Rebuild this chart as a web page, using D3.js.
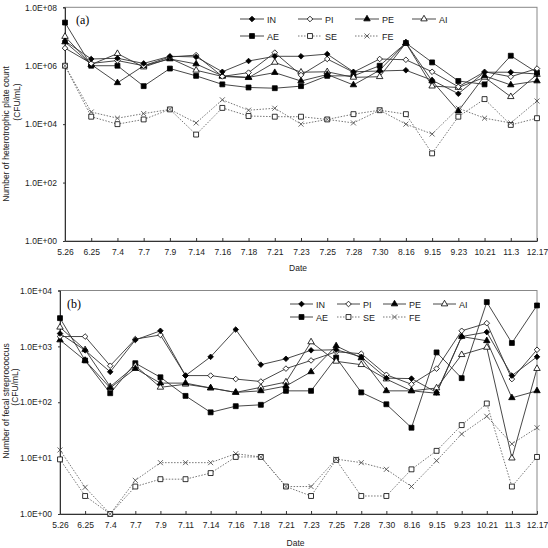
<!DOCTYPE html>
<html>
<head>
<meta charset="utf-8">
<script src="https://cdn.jsdelivr.net/npm/d3@7"></script>
<style>
  body { margin: 0; background: #fff; }
  svg { display: block; font-family: "Liberation Sans", Arial, sans-serif; }
</style>
</head>
<body>
<svg id="chart" width="548" height="548"></svg>
<script>
const datesA = ["5.26","6.25","7.4","7.7","7.9","7.14","7.16","7.18","7.21","7.23","7.25","7.28","7.30","8.16","9.15","9.23","10.21","11.3","12.17"];
const datesB = ["5.26","6.25","7.4","7.7","7.9","7.11","7.14","7.16","7.18","7.21","7.23","7.25","7.28","7.30","8.16","9.15","9.23","10.21","11.3","12.17"];
const names = ["IN","PI","PE","AI","AE","SE","FE"];

// (a) heterotrophic plate count
const hpcIN = [7e6,1.7e6,1.8e6,1.2e6,2.1e6,2e6,6.2e5,1.45e6,2.1e6,2.1e6,2.5e6,6.2e5,6.6e5,7e5,3.2e5,1.1e5,6e5,6e5,5.2e5];
const hpcPI = [4e6,1.2e6,1.5e6,1e6,2e6,2.3e6,4.3e5,5.8e5,2.8e6,4.8e5,1.7e6,6e5,1.7e6,1.6e6,6.2e5,1.9e5,6.2e5,4.2e5,8e5];
const hpcPE = [6.5e6,1.1e6,2.6e5,1e6,1.7e6,1.15e6,4.5e5,4e5,5.8e5,3e5,5e5,2.2e5,7e5,6e6,3e5,2.8e4,4.5e5,2.2e5,3e5];
const hpcAI = [1e7,1.1e6,2.6e6,9e5,1.8e6,7e5,4.3e5,3.9e5,1.3e6,6e5,6.2e5,4e5,4.2e5,6e6,2e5,1.8e5,4e5,8.7e4,5e5];
const hpcAE = [3e7,1e6,1e6,2e5,8e5,4.5e5,2.3e5,1.8e5,1.7e5,2e5,4.5e5,4.5e5,1e6,6e6,1.3e6,3e5,2.3e5,2.2e6,5.8e5];
const hpcSE = [1e6,1.8e4,1e4,1.45e4,3.2e4,4.4e3,3.6e4,1.9e4,1.8e4,1.8e4,1.45e4,2.2e4,3e4,2.2e4,1e3,1.8e4,7.2e4,9.4e3,1.6e4];
const hpcFE = [1e6,2.6e4,1.6e4,2.3e4,3.2e4,1.1e4,6.8e4,3e4,3.5e4,1e4,1.45e4,1.1e4,3e4,1e4,4.6e3,3.5e4,1.6e4,1.1e4,6.2e4];

// (b) fecal streptococcus
const fsIN = [1.7e3,850,350,1.3e3,1.9e3,300,650,2e3,470,600,850,870,650,270,265,150,1.5e3,1.8e3,300,650];
const fsPI = [1.5e3,1.5e3,450,1.35e3,1.6e3,300,300,260,235,400,560,800,740,310,210,400,1.9e3,2.6e3,260,870];
const fsPE = [1.3e3,560,180,400,220,220,180,150,160,195,350,1.02e3,620,160,160,145,1.5e3,1.26e3,120,160];
const fsAI = [2.2e3,870,190,450,185,210,180,150,185,230,1.2e3,540,470,260,160,180,710,960,10,400];
const fsAE = [3.2e3,560,145,500,280,130,66,85,90,160,160,630,150,92,35,780,270,6.2e3,1.15e3,5.4e3];
const fsSE = [9.5,2.1,1,3.1,4.2,4.2,5.4,10.5,10.5,3.1,2.1,9.3,2.1,2.1,6.3,13.5,39,95,3.1,10.5];
const fsFE = [14,3,1,4,8.3,8.3,8.3,12,10.5,3.1,3.1,9.6,8.3,6.3,3.1,9,27,56,18,35];

const ticksA = [1,1e2,1e4,1e6,1e8];
const ticksB = [1,1e1,1e2,1e3,1e4];

const style = {
  IN: {sym: d3.symbolDiamond2, fill: "#000", dash: null},
  PI: {sym: d3.symbolDiamond2, fill: "#fff", dash: null},
  PE: {sym: d3.symbolTriangle, fill: "#000", dash: null},
  AI: {sym: d3.symbolTriangle, fill: "#fff", dash: null},
  AE: {sym: d3.symbolSquare, fill: "#000", dash: null},
  SE: {sym: d3.symbolSquare, fill: "#fff", dash: "1.5,1.5"},
  FE: {sym: d3.symbolTimes, fill: "none", dash: "1.5,1.5"}
};
const symSize = {IN: 20, PI: 20, PE: 18, AI: 18, AE: 24, SE: 24, FE: 18};

const svg = d3.select("#chart");
const fmt = v => "1.0E+" + String(Math.round(Math.log10(v))).padStart(2, "0");

function marker(g, name, x, y) {
  const s = style[name];
  g.append("path")
    .attr("transform", `translate(${x},${y})`)
    .attr("d", d3.symbol().type(s.sym).size(symSize[name])())
    .attr("fill", s.fill)
    .attr("stroke", name === "FE" ? "#444" : "#000")
    .attr("stroke-width", 0.8);
}

function drawPanel(p) {
  const g = svg.append("g");
  const x = d3.scalePoint().domain(p.dates).range([p.left, p.right]);
  const y = d3.scaleLog().domain(p.domain).range([p.bottom, p.top]);

  // frame
  g.append("rect")
    .attr("x", p.left).attr("y", p.top)
    .attr("width", p.right - p.left).attr("height", p.bottom - p.top)
    .attr("fill", "none").attr("stroke", "#888").attr("stroke-width", 1);

  const xa = g.append("g")
    .attr("transform", `translate(0,${p.bottom})`)
    .call(d3.axisBottom(x).tickSizeInner(-3).tickSizeOuter(0).tickPadding(8));
  xa.select(".domain").attr("stroke", "#333");
  xa.selectAll("line").attr("stroke", "#333");
  xa.selectAll("text").attr("font-size", "8.5px").attr("fill", "#222");

  const ya = g.append("g")
    .attr("transform", `translate(${p.left},0)`)
    .call(d3.axisLeft(y).tickValues(p.ticks).tickFormat(fmt).tickSize(2).tickPadding(6));
  ya.select(".domain").attr("stroke", "#333");
  ya.selectAll("line").attr("stroke", "#333");
  ya.selectAll("text").attr("font-size", "8.5px").attr("fill", "#222");

  const line = d3.line().x((d, i) => x(p.dates[i])).y(d => y(d));
  const order = ["SE","FE","AE","AI","PE","PI","IN"];
  order.forEach(n => {
    const dotted = style[n].dash;
    g.append("path")
      .attr("d", line(p.series[n]))
      .attr("fill", "none")
      .attr("stroke", dotted ? "#666" : "#333")
      .attr("stroke-width", 0.9)
      .attr("stroke-dasharray", dotted);
  });
  order.forEach(n => {
    p.series[n].forEach((v, i) => marker(g, n, x(p.dates[i]), y(v)));
  });

  // legend
  names.forEach((n, i) => {
    const col = i % 4, row = Math.floor(i / 4);
    const lx = p.legX[col], ly = p.legY[row];
    g.append("line")
      .attr("x1", lx).attr("x2", lx + p.legLen)
      .attr("y1", ly).attr("y2", ly)
      .attr("stroke", style[n].dash ? "#666" : "#333")
      .attr("stroke-width", 0.9)
      .attr("stroke-dasharray", style[n].dash);
    marker(g, n, lx + p.legLen / 2, ly);
    g.append("text")
      .attr("x", lx + p.legLen + 3).attr("y", ly + 3.5)
      .attr("font-size", "9px").attr("fill", "#222")
      .text(n);
  });

  g.append("text")
    .attr("x", p.labX).attr("y", p.labY)
    .attr("font-family", "'Liberation Serif', 'Times New Roman', serif")
    .attr("font-size", "12px")
    .text(p.label);

  g.append("text")
    .attr("x", (p.left + p.right) / 2 - 3).attr("y", p.dateY)
    .attr("text-anchor", "middle")
    .attr("font-size", "8.5px").attr("fill", "#222")
    .text("Date");

  g.append("text")
    .attr("transform", `translate(${p.t1x},${p.t1y}) rotate(-90)`)
    .attr("text-anchor", "middle")
    .attr("font-size", "8.5px").attr("fill", "#222")
    .text(p.title);
  g.append("text")
    .attr("transform", `translate(${p.t2x},${p.t2y}) rotate(-90)`)
    .attr("text-anchor", "middle")
    .attr("font-size", "8.5px").attr("fill", "#222")
    .text("(CFU/mL)");
}

drawPanel({
  dates: datesA, domain: [1, 1e8], ticks: ticksA,
  left: 65, right: 537, top: 7.3, bottom: 241,
  series: {IN: hpcIN, PI: hpcPI, PE: hpcPE, AI: hpcAI, AE: hpcAE, SE: hpcSE, FE: hpcFE},
  legX: [240, 298, 355, 412], legY: [19, 36], legLen: 24,
  label: "(a)", labX: 76, labY: 24, dateY: 271,
  title: "Number of heterotrophic plate count", t1x: 9, t1y: 134, t2x: 20, t2y: 102
});

drawPanel({
  dates: datesB, domain: [1, 1e4], ticks: ticksB,
  left: 60, right: 537, top: 290.5, bottom: 514,
  series: {IN: fsIN, PI: fsPI, PE: fsPE, AI: fsAI, AE: fsAE, SE: fsSE, FE: fsFE},
  legX: [290, 337, 383, 433], legY: [304, 317], legLen: 23,
  label: "(b)", labX: 67, labY: 308, dateY: 546,
  title: "Number of fecal streprococcus", t1x: 9, t1y: 401, t2x: 18, t2y: 387
});
</script>
</body>
</html>
